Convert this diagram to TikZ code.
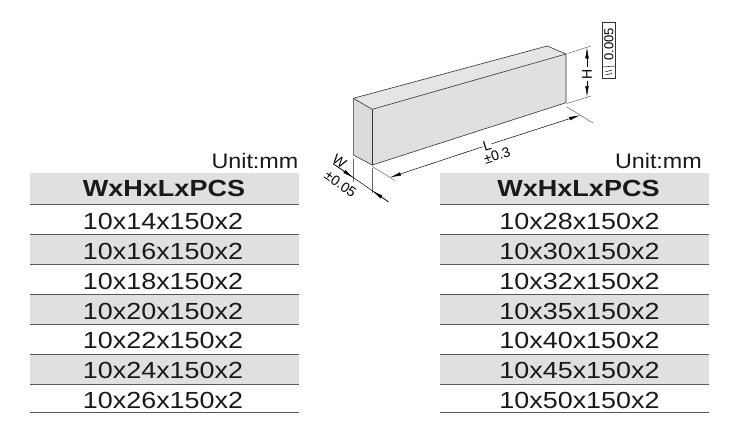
\documentclass[tikz,border=0pt]{standalone}
\usepackage{fontspec}
\setmainfont{Liberation Sans}
\newfontfamily\rowfont[FakeStretch=1.155]{Liberation Sans}
\newfontfamily\headfont[FakeStretch=1.16]{Liberation Sans}
\newfontfamily\unitfont[FakeStretch=1.11]{Liberation Sans}
\usetikzlibrary{arrows.meta}
\begin{document}
\begin{tikzpicture}[x=1pt,y=-1pt,
  edge/.style={draw=black!80, line width=0.6pt, line join=round},
  dim/.style={draw=black, line width=0.5pt},
  ext/.style={draw=black!60, line width=0.5pt},
  tip/.style={-{Latex[length=11pt,width=3.6pt]}},
  band/.style={fill=black!12, draw=none},
  rulel/.style={draw=black!65, line width=0.9pt},
  rowtxt/.style={anchor=base, inner sep=0pt, text=black!90, font=\rowfont\fontsize{23.3}{28}\selectfont},
  headtxt/.style={anchor=base, inner sep=0pt, text=black!90, font=\headfont\bfseries\fontsize{23.3}{28}\selectfont},
  unittxt/.style={anchor=base east, inner sep=0pt, text=black!90, font=\unitfont\fontsize{21}{25}\selectfont},
  dimtxt/.style={inner sep=0.5pt, font=\fontsize{14}{16}\selectfont},
]
\useasboundingbox (0,0) rectangle (729,437);

% ---------------- tables ----------------
\foreach \xa/\xb in {30/299, 440/709}{
  \fill[band] (\xa,173) rectangle (\xb,204);
  \fill[band] (\xa,234) rectangle (\xb,264);
  \fill[band] (\xa,294) rectangle (\xb,324);
  \fill[band] (\xa,354) rectangle (\xb,384);
  \foreach \yy in {204,234,264,294,324,354,384,412}
    \draw[rulel] (\xa,\yy) -- (\xb,\yy);
}
\node[unittxt] (lu) at (298.5,168) {Unit:mm};
\node[unittxt] (ru) at (702,168.3) {Unit:mm};
\node[headtxt] (lh) at (164,196) {WxHxLxPCS};
\node[headtxt] (rh) at (578.5,196.5) {WxHxLxPCS};
\foreach \t [count=\i] in {10x14x150x2,10x16x150x2,10x18x150x2,10x20x150x2,10x22x150x2,10x24x150x2,10x26x150x2}
  \node[rowtxt] (l\i) at (163,{229.9+29.7*(\i-1)}) {\t};
\foreach \t [count=\i] in {10x28x150x2,10x30x150x2,10x32x150x2,10x35x150x2,10x40x150x2,10x45x150x2,10x50x150x2}
  \node[rowtxt] (r\i) at (579.5,{229.9+29.7*(\i-1)}) {\t};

% ---------------- block ----------------
\coordinate (A) at (353.3,98.3);
\coordinate (B) at (372.3,109.3);
\coordinate (C) at (547.3,46);
\coordinate (D) at (566,54);
\coordinate (E) at (566,102.7);
\coordinate (F) at (372.3,165);
\coordinate (G) at (353.3,155);
\fill[black!10] (A) -- (C) -- (D) -- (B) -- cycle;
\fill[black!12] (B) -- (D) -- (E) -- (F) -- cycle;
\fill[black!14] (A) -- (B) -- (F) -- (G) -- cycle;
\draw[edge] (A) -- (C) -- (D) -- (E) -- (F) -- (G) -- cycle;
\draw[edge] (A) -- (B) -- (D);
\draw[edge] (B) -- (F);

% H dimension
\draw[ext] (567.5,53.5) -- (591,46);
\draw[ext] (567,103.5) -- (591,96);
\coordinate (hu) at (587,47.3);
\coordinate (hd) at (587,97);
\node[dimtxt, rotate=90, inner sep=1.5pt] (H) at (587,74) {H};
\draw[dim,tip] (H.east) -- (hu);
\draw[dim,tip] (H.west) -- (hd);

% tolerance frame
\draw[line width=0.6pt, draw=black!80] (602.5,22.5) rectangle (615,78);
\draw[line width=0.6pt, draw=black!80] (602.5,67) -- (615,66);
\node[rotate=90, inner sep=0pt, font=\fontsize{13}{15}\selectfont] (tol) at (609,44.5) {0.005};
\draw[line width=0.5pt] (605.5,75) -- (612,73.3);
\draw[line width=0.5pt] (605.5,71.8) -- (612,70.1);

% L dimension
\draw[ext] (372.3,166.5) -- (395,180.5);
\draw[ext] (567,107) -- (593,123);
\coordinate (L1) at (390,177.4);
\coordinate (L2) at (580,115.3);
\node[dimtxt, rotate=18, fill=white, inner sep=0.5pt] (Lab) at (487,145.3) {L};
\node[dimtxt, rotate=18] (Ltol) at (497,155.5) {±0.3};
\draw[dim,tip] (Lab) -- (L1);
\draw[dim,tip] (Lab) -- (L2);

% W dimension
\draw[ext] (353.5,159) -- (353.5,182);
\draw[ext] (372.3,168) -- (372.3,193);
\coordinate (W0) at (333,163.6);
\coordinate (W1) at (353.5,177.8);
\coordinate (W2) at (372.3,190.7);
\coordinate (W3) at (388.3,201.7);
\draw[dim] (W0) -- (W3);
\draw[dim,tip] (W0) -- (W1);
\draw[dim,tip] (W3) -- (W2);
\node[dimtxt, rotate=-35] (Wl) at (339.5,161.5) {W};
\node[dimtxt, rotate=-35] (Wtol) at (340.5,184) {±0.05};
\end{tikzpicture}
\end{document}
